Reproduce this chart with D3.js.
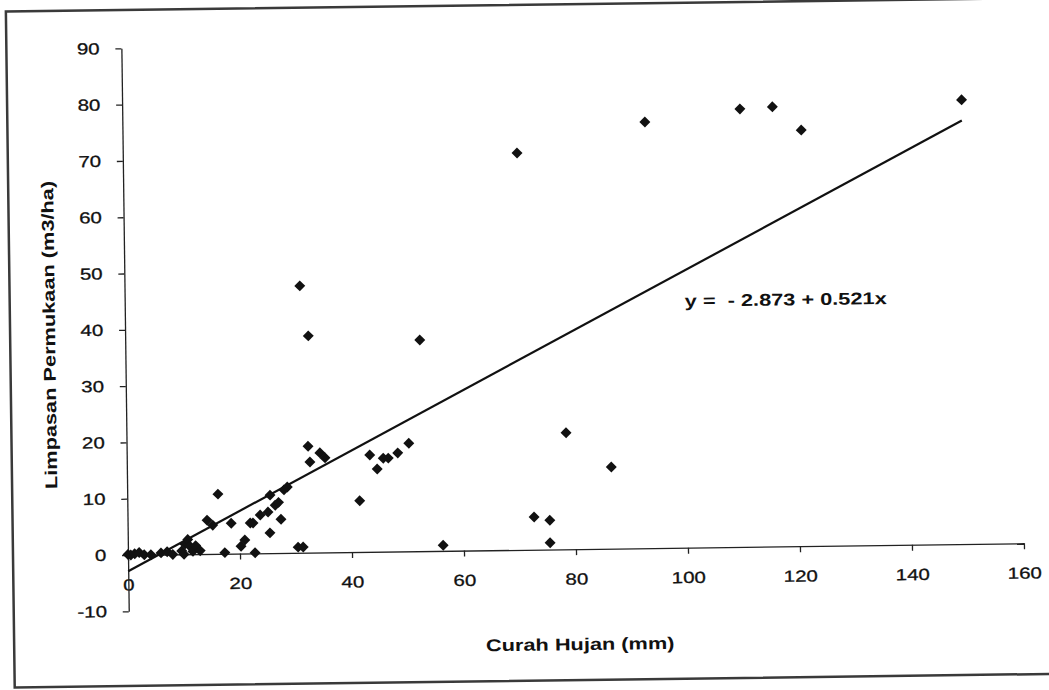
<!DOCTYPE html>
<html>
<head>
<meta charset="utf-8">
<script src="https://cdn.jsdelivr.net/npm/d3@7"></script>
<style>
body { margin: 0; background: #fff; }
svg text { font-family: "Liberation Sans", Arial, sans-serif; fill: #111; }
</style>
</head>
<body>
<script>
// curah hujan (mm) and limpasan permukaan (m3/ha), one entry per event
var rain = [0, 0.5, 1.2, 2, 2.9, 4.1, 5.9, 7, 8, 9.6, 10.2, 10.7, 11.1, 11.6, 12.1, 12.9, 10,
  14.2, 15.2, 16.2, 17.3, 18.5, 20.2, 20.9, 21.9, 22.4, 22.7, 23.7, 25.1, 25.5, 25.4, 26.4,
  27, 27.4, 28.6, 28, 30.4, 31.3, 31.3, 32.7, 32.4, 32.7, 34.5, 35.4, 41.5, 43.4, 44.7,
  45.8, 46.7, 48.4, 50.4, 52.6, 56.3, 70.4, 72.6, 75.4, 75.4, 78.5, 86.5, 93.3, 110.3,
  116.1, 121.2, 149.9];
var runoff = [0.1, 0, 0.2, 0.4, 0, 0, 0.3, 0.5, 0, 0.6, 1.8, 2.6, 1.4, 0.5, 1.5, 0.6, 0,
  6.0, 5.1, 10.6, 0.2, 5.4, 1.3, 2.4, 5.4, 5.4, 0.1, 6.8, 7.3, 10.3, 3.6, 8.5,
  9.0, 6.0, 11.7, 11.2, 1.0, 1.0, 47.4, 38.5, 18.9, 16.1, 17.7, 16.8, 9.1, 17.2, 14.7,
  16.6, 16.6, 17.5, 19.2, 37.5, 1.0, 70.5, 5.8, 5.2, 1.2, 20.7, 14.5, 75.7, 77.8,
  78.1, 73.9, 78.9];

var xTicks = [0, 20, 40, 60, 80, 100, 120, 140, 160];
var yTicks = [-10, 0, 10, 20, 30, 40, 50, 60, 70, 80, 90];

// regression from the label on the chart
var intercept = -2.873, slope = 0.521;
var eqLabel = "y =  - 2.873 + 0.521x";
var xTitle = "Curah Hujan (mm)";
var yTitle = "Limpasan Permukaan (m3/ha)";

var width = 1049, height = 690;
var stretch = 1.28; // text in the scan runs wide

var svg = d3.select("body").append("svg")
  .attr("width", width).attr("height", height);

// the scanned page is tilted a bit, tilt everything with it
var g = svg.append("g").attr("transform", "rotate(-0.75,128,555)");

g.append("rect")
  .attr("x", 13).attr("y", 10).attr("width", 1070).attr("height", 676)
  .style("fill", "none").style("stroke", "#3a3a3a").style("stroke-width", 2.5);

var x = d3.scaleLinear().domain([0, 160]).range([128, 1024]);
var y = d3.scaleLinear().domain([-10, 90]).range([611.3, 48.3]);

g.append("g")
  .attr("transform", "translate(0," + y(0) + ")")
  .call(d3.axisBottom(x).tickValues(xTicks).tickFormat(function(d) { return d; })
    .tickSize(6).tickSizeOuter(0).tickPadding(18));

g.append("g")
  .attr("transform", "translate(" + x(0) + ",0)")
  .call(d3.axisLeft(y).tickValues(yTicks).tickFormat(function(d) { return d; })
    .tickSize(6).tickSizeOuter(0).tickPadding(11));

g.selectAll(".tick text")
  .attr("transform", "scale(" + stretch + ",1)")
  .style("font-size", "16px")
  .style("stroke", "#111").style("stroke-width", 0.3);
g.selectAll(".domain, .tick line").style("stroke", "#222").style("stroke-width", 1.3);

// trend line over the range of the data
var trend = d3.extent(rain).map(function(v) { return [v, intercept + slope * v]; });
g.append("path")
  .attr("d", d3.line().x(function(d) { return x(d[0]); }).y(function(d) { return y(d[1]); })(trend))
  .style("fill", "none").style("stroke", "#111").style("stroke-width", 2.2);

var pts = rain.map(function(r, i) { return [r, runoff[i]]; });
g.selectAll("path.pt").data(pts).enter().append("path")
  .attr("class", "pt")
  .attr("transform", function(d) { return "translate(" + x(d[0]) + "," + y(d[1]) + ") rotate(45)"; })
  .attr("d", d3.symbol().type(d3.symbolSquare).size(60))
  .style("fill", "#111");

g.append("text")
  .attr("transform", "translate(688,314) scale(" + stretch + ",1)")
  .style("font-size", "17px").style("font-weight", "bold").style("white-space", "pre")
  .text(eqLabel);

g.append("text")
  .attr("transform", "translate(579,656) scale(" + stretch + ",1)")
  .attr("text-anchor", "middle")
  .style("font-size", "17px").style("font-weight", "bold")
  .text(xTitle);

g.append("text")
  .attr("transform", "translate(58,334) rotate(-90) scale(" + stretch + ",1)")
  .attr("text-anchor", "middle")
  .style("font-size", "17px").style("font-weight", "bold")
  .text(yTitle);
</script>
</body>
</html>
